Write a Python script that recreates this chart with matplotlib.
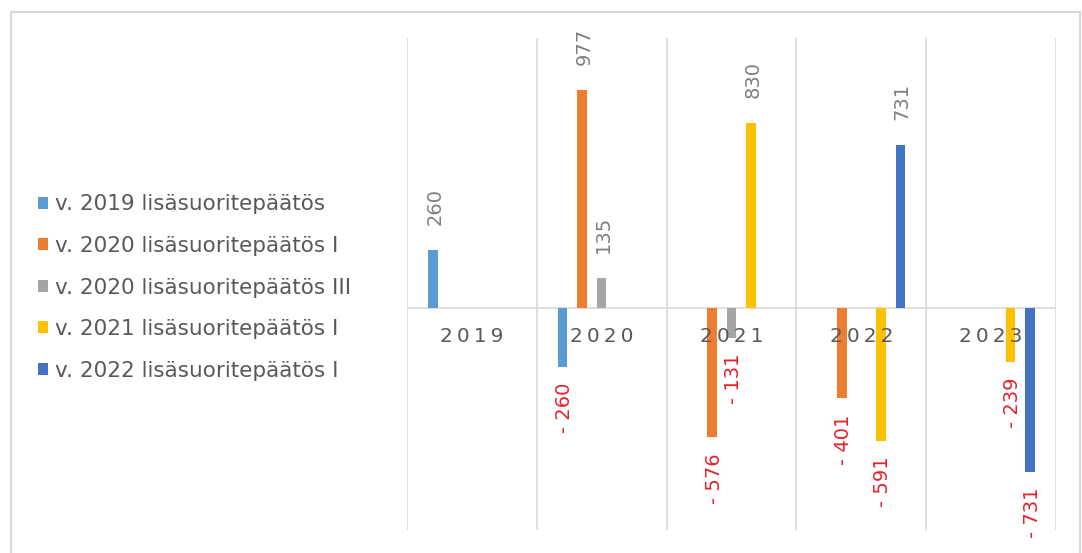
import numpy as np
import matplotlib
matplotlib.use("Agg")
import matplotlib.pyplot as plt
from matplotlib.lines import Line2D

nan = np.nan
categories = ["2019", "2020", "2021", "2022", "2023"]
series_names = [
    "v. 2019 lisäsuoritepäätös",
    "v. 2020 lisäsuoritepäätös I",
    "v. 2020 lisäsuoritepäätös III",
    "v. 2021 lisäsuoritepäätös I",
    "v. 2022 lisäsuoritepäätös I",
]
s2019 = [260, -260, nan, nan, nan]
s2020_I = [nan, 977, -576, -401, nan]
s2020_III = [nan, 135, -131, nan, nan]
s2021_I = [nan, nan, 830, -591, -239]
s2022_I = [nan, nan, nan, 731, -731]
series_values = [s2019, s2020_I, s2020_III, s2021_I, s2022_I]
colors = ["#5B9BD5", "#ED7D31", "#A5A5A5", "#FFC000", "#4472C4"]

fig = plt.figure(figsize=(10.82, 5.53), dpi=100)
ax = fig.add_axes([407 / 1082, 1 - 530 / 553, 649 / 1082, 492 / 553])

x = np.arange(len(categories))
offsets = [-0.30, -0.15, 0.0, 0.15, 0.30]
width = 0.073
grid_c = "#D9D9D9"

handles = []
for vals, off, col, name in zip(series_values, offsets, colors, series_names):
    v = np.array(vals, dtype=float)
    bars = ax.bar(x + off, v, width=width, color=col, label=name, zorder=3)
    handles.append(bars)
    for xi, val in zip(x + off, v):
        if np.isnan(val):
            continue
        if val >= 0:
            ax.annotate(f"{int(val)}", xy=(xi, val), xytext=(1.5, 18),
                        textcoords="offset points", rotation=90,
                        ha="center", va="bottom", fontsize=14, color="#7F7F7F")
        else:
            ax.annotate(f"- {int(abs(val))}", xy=(xi, val), xytext=(1.5, -11.5),
                        textcoords="offset points", rotation=90,
                        ha="center", va="top", fontsize=14, color="#E8202A")

ax.set_xlim(-0.5, len(categories) - 0.5)
ax.set_ylim(-990, 1208)
ax.axhline(0, color=grid_c, lw=1.2, zorder=2)
for b in np.arange(-0.5, len(categories), 1.0):
    ax.axvline(b, color=grid_c, lw=1.2, zorder=1)
for s in ax.spines.values():
    s.set_visible(False)
ax.set_yticks([])
ax.set_xticks([])
for xi, cat in zip(x, categories):
    ax.annotate("\u2009".join(cat), xy=(xi, 0), xytext=(0, -20), textcoords="offset points",
                ha="center", va="center", fontsize=14.5, color="#595959", zorder=4)

fig.legend(handles=handles, labels=series_names, loc="center left",
           bbox_to_anchor=(38 / 1082, 1 - 287.5 / 553), frameon=False,
           fontsize=15.5, labelcolor="#595959", handlelength=0.47, handleheight=0.47,
           handletextpad=0.33, labelspacing=1.0, borderpad=0, borderaxespad=0)

fig.add_artist(Line2D([10.5 / 1082, 10.5 / 1082], [0, 1 - 12 / 553], color=grid_c, lw=1.5, transform=fig.transFigure))
fig.add_artist(Line2D([10.5 / 1082, 1080 / 1082], [1 - 12 / 553, 1 - 12 / 553], color=grid_c, lw=1.5, transform=fig.transFigure))
fig.add_artist(Line2D([1080 / 1082, 1080 / 1082], [0, 1 - 12 / 553], color=grid_c, lw=1.5, transform=fig.transFigure))

fig.savefig("out.png", dpi=100)
